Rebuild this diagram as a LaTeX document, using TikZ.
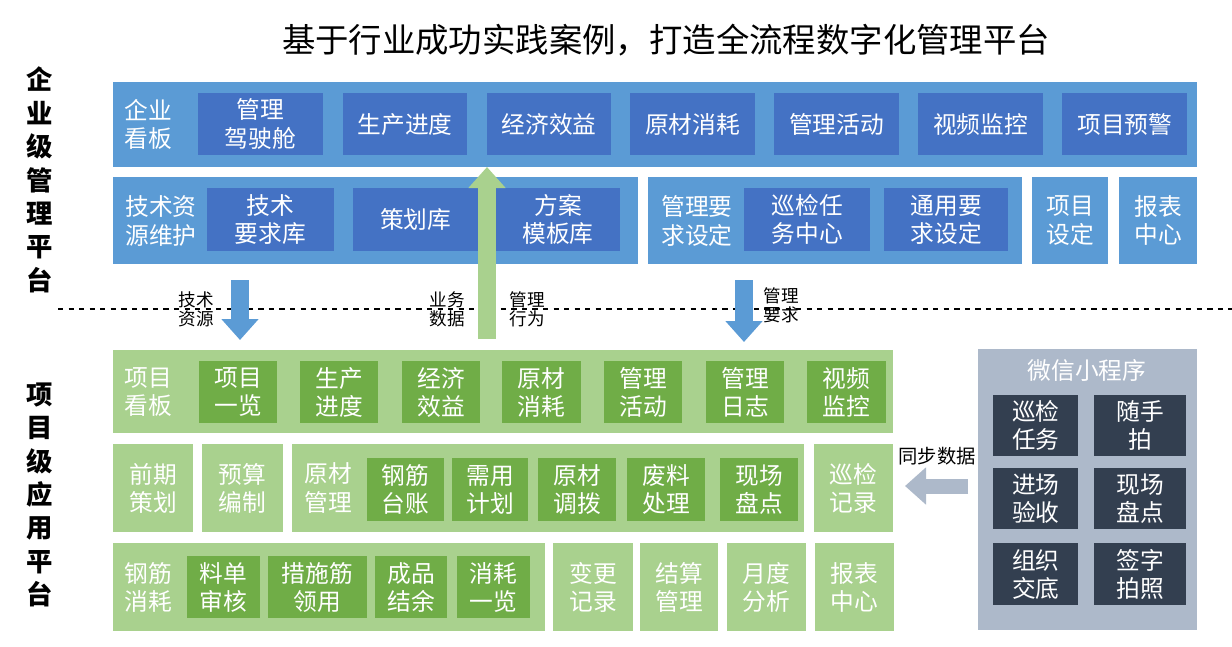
\documentclass[tikz,border=0pt]{standalone}
\usepackage{fontspec}
\setmainfont{Noto Sans CJK SC}
\usetikzlibrary{arrows.meta}
\definecolor{bandB}{HTML}{5B9BD5}
\definecolor{boxB}{HTML}{4472C4}
\definecolor{bandG}{HTML}{A9D18E}
\definecolor{boxG}{HTML}{70AD47}
\definecolor{bandW}{HTML}{ADB9CA}
\definecolor{boxW}{HTML}{333F50}
\newcommand\bx[7]{\node[#6,minimum width={(#4-#2)*0.02cm},minimum height={(#5-#3)*0.02cm}] (#1) at ({(#2+#4)/2*0.02},{-(#3+#5)/2*0.02}) {#7};}
\begin{document}
\begin{tikzpicture}[
  every node/.style={inner sep=0pt,outer sep=0pt,align=center,font=\fontsize{13.5}{16}\selectfont,text=white},
  bb/.style={fill=bandB},
  ib/.style={fill=boxB},
  bg/.style={fill=bandG},
  ig/.style={fill=boxG},
  bw/.style={fill=bandW},
  iw/.style={fill=boxW},
  lbl/.style={text=black,font=\fontsize{10}{11}\selectfont},
  side/.style={text=black,font=\fontsize{15}{19}\bfseries\selectfont},
  blk/.style={line width=0.36cm,-{Triangle[width=0.72cm,length=0.42cm]}}
]
\useasboundingbox[fill=white] (0,0) rectangle (24.64,-12.92);
\node[text=black,font=\fontsize{19}{22}\selectfont] (title) at (13.32,-0.8) {基于行业成功实践案例，打造全流程数字化管理平台};
\node[side] (l1) at (0.8,-3.6) {企\\业\\级\\管\\理\\平\\台};
\node[side] (l2) at (0.8,-9.9) {项\\目\\级\\应\\用\\平\\台};
\draw[dashed,line width=1pt] (1.16,-6.18) coordinate (d1) -- (24.64,-6.18) coordinate (d2);
% top band
\bx{qb}{113}{82}{1197}{167}{bb}{}
\node (qbl) at (2.96,-2.48) {企业\\看板};
\bx{a1}{198}{93}{323}{155}{ib}{管理\\驾驶舱}
\bx{a2}{343}{93}{467}{155}{ib}{生产进度}
\bx{a3}{487}{93}{611}{155}{ib}{经济效益}
\bx{a4}{630}{93}{755}{155}{ib}{原材消耗}
\bx{a5}{774}{93}{899}{155}{ib}{管理活动}
\bx{a6}{918}{93}{1043}{155}{ib}{视频监控}
\bx{a7}{1062}{93}{1187}{155}{ib}{项目预警}
% second row
\bx{js}{113}{177}{638}{264}{bb}{}
\node (jsl) at (3.22,-4.42) {技术资\\源维护};
\bx{b1}{207}{188}{334}{251}{ib}{技术\\要求库}
\bx{b2}{353}{188}{478}{251}{ib}{策划库}
\bx{b3}{496}{188}{620}{251}{ib}{方案\\模板库}
\bx{gl}{648}{177}{1022}{264}{bb}{}
\node (gll) at (13.94,-4.42) {管理要\\求设定};
\bx{b4}{744}{188}{870}{251}{ib}{巡检任\\务中心}
\bx{b5}{884}{188}{1008}{251}{ib}{通用要\\求设定}
\bx{b6}{1032}{177}{1108}{264}{bb}{项目\\设定}
\bx{b7}{1119}{177}{1197}{264}{bb}{报表\\中心}
% arrows
\coordinate (u1) at (4.8,-5.6); \coordinate (u2) at (4.8,-6.8);
\draw[blk,draw=bandB,-{Triangle[width=0.72cm,length=0.42cm]},color=bandB] (u1) -- (u2);
\node[lbl] (t1) at (3.92,-6.18) {技术\\资源};
\coordinate (g1) at (9.74,-6.78); \coordinate (g2) at (9.74,-3.34);
\draw[blk,color=bandG] (g1) -- (g2);
\node[lbl] (t2) at (8.94,-6.18) {业务\\数据};
\node[lbl] (t3) at (10.54,-6.18) {管理\\行为};
\coordinate (m1) at (14.88,-5.6); \coordinate (m2) at (14.88,-6.84);
\draw[blk,color=bandB] (m1) -- (m2);
\node[lbl] (t4) at (15.62,-6.1) {管理\\要求};
% project board
\bx{pb}{113}{350}{893}{433}{bg}{}
\node (pbl) at (2.96,-7.84) {项目\\看板};
\bx{c1}{199}{361}{277}{423}{ig}{项目\\一览}
\bx{c2}{300}{361}{378}{423}{ig}{生产\\进度}
\bx{c3}{402}{361}{480}{423}{ig}{经济\\效益}
\bx{c4}{502}{361}{581}{423}{ig}{原材\\消耗}
\bx{c5}{604}{361}{682}{423}{ig}{管理\\活动}
\bx{c6}{706}{361}{784}{423}{ig}{管理\\日志}
\bx{c7}{807}{361}{886}{423}{ig}{视频\\监控}
% row 2
\bx{d1}{113}{444}{193}{532}{bg}{前期\\策划}
\bx{d2}{202}{444}{283}{532}{bg}{预算\\编制}
\bx{yc}{292}{444}{804}{532}{bg}{}
\node (ycl) at (6.56,-9.76) {原材\\管理};
\bx{e1}{367}{458}{444}{521}{ig}{钢筋\\台账}
\bx{e2}{452}{458}{528}{521}{ig}{需用\\计划}
\bx{e3}{538}{458}{616}{521}{ig}{原材\\调拨}
\bx{e4}{627}{458}{705}{521}{ig}{废料\\处理}
\bx{e5}{720}{458}{798}{521}{ig}{现场\\盘点}
\bx{xj}{814}{444}{893}{532}{bg}{巡检\\记录}
% row 3
\bx{gj}{113}{543}{545}{631}{bg}{}
\node (gjl) at (2.96,-11.74) {钢筋\\消耗};
\bx{f1}{187}{556}{260}{618}{ig}{料单\\审核}
\bx{f2}{268}{556}{367}{618}{ig}{措施筋\\领用}
\bx{f3}{375}{556}{447}{618}{ig}{成品\\结余}
\bx{f4}{457}{556}{530}{618}{ig}{消耗\\一览}
\bx{h1}{553}{543}{633}{631}{bg}{变更\\记录}
\bx{h2}{640}{543}{718}{631}{bg}{结算\\管理}
\bx{h3}{727}{543}{806}{631}{bg}{月度\\分析}
\bx{h4}{815}{543}{894}{631}{bg}{报表\\中心}
% wechat
\bx{wx}{978}{349}{1197}{630}{bw}{}
\node (wxt) at (21.74,-7.4) {微信小程序};
\bx{w1}{993}{395}{1078}{456}{iw}{巡检\\任务}
\bx{w2}{1094}{395}{1186}{456}{iw}{随手\\拍}
\bx{w3}{993}{468}{1078}{529}{iw}{进场\\验收}
\bx{w4}{1094}{468}{1186}{529}{iw}{现场\\盘点}
\bx{w5}{993}{543}{1078}{605}{iw}{组织\\交底}
\bx{w6}{1094}{543}{1186}{605}{iw}{签字\\拍照}
\draw[blk,color=bandW,line width=0.3cm] (wx.west|-0,-9.72) ++(-0.2,0) coordinate (s1) -- (18.1,-9.72) coordinate (s2);
\node[lbl,font=\fontsize{11}{13}\selectfont] (t5) at (18.74,-9.12) {同步数据};
\end{tikzpicture}
\end{document}
